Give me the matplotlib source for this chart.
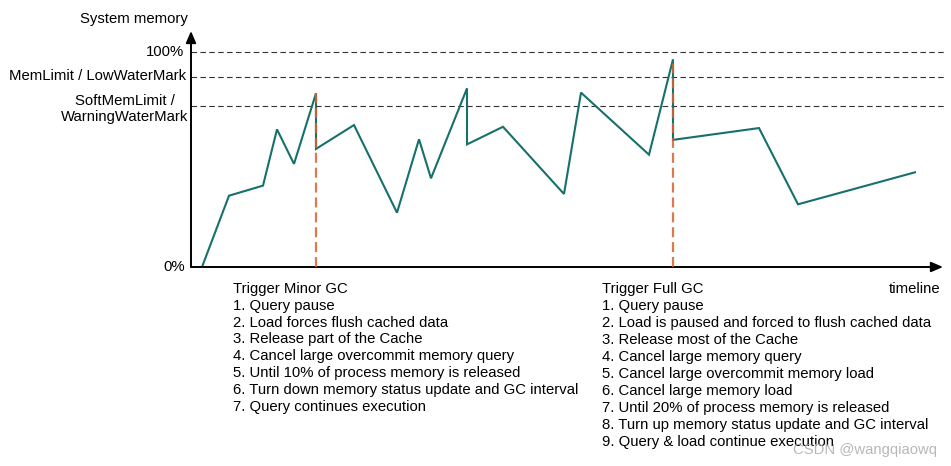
#!/usr/bin/env python3
import matplotlib.pyplot as plt
import numpy as np

plt.rcParams['font.family'] = ['Liberation Sans', 'DejaVu Sans']

# memory usage along the timeline (arbitrary time units, percent of system memory)
t = [11, 38, 72, 86, 103, 125, 125, 163, 206, 228, 240, 276, 276,
     312, 373, 390, 458, 482, 482, 568, 607, 724]
mem = [0, 33.2, 37.9, 64.1, 48.0, 80.9, 55.0, 66.1, 25.3, 59.5, 41.3,
       83.2, 57.1, 65.3, 34.0, 81.2, 52.3, 96.7, 59.2, 64.7, 29.2, 44.1]

# watermark levels
levels = [100, 88.4, 75.1]
level_labels = ['100%', 'MemLimit / LowWaterMark',
                'SoftMemLimit /\nWarningWaterMark']

# GC trigger moments and the peak reached there
gc_t = [125, 482]
gc_peak = [80.9, 96.7]

minor_gc = ['Trigger Minor GC',
            '1. Query pause',
            '2. Load forces flush cached data',
            '3. Release part of the Cache',
            '4. Cancel large overcommit memory query',
            '5. Until 10% of process memory is released',
            '6. Turn down memory status update and GC interval',
            '7. Query continues execution']
full_gc = ['Trigger Full GC',
           '1. Query pause',
           '2. Load is paused and forced to flush cached data',
           '3. Release most of the Cache',
           '4. Cancel large memory query',
           '5. Cancel large overcommit memory load',
           '6. Cancel large memory load',
           '7. Until 20% of process memory is released',
           '8. Turn up memory status update and GC interval',
           '9. Query & load continue execution']

TEAL = '#16706b'
ORANGE = '#d5632f'
FS = 10.7

fig = plt.figure(figsize=(9.51, 4.66), dpi=100)
ax = fig.add_axes([191 / 951, (466 - 267) / 466, 755 / 951, 236 / 466])
ax.set_xlim(0, 755)
ax.set_ylim(0, 109.9)
ax.axis('off')

# dashed watermark lines
for lv in levels:
    ax.plot([0, 755], [lv, lv], color='#333333', lw=0.8,
            dashes=(5, 3), clip_on=False, zorder=1)

ax.plot(t, mem, color=TEAL, lw=1.5, zorder=3, solid_joinstyle='miter')

# GC trigger markers, drawn over the drop so it turns brownish like the original
for gt, gp in zip(gc_t, gc_peak):
    ax.plot([gt, gt], [0, gp], color=ORANGE, lw=1.6, alpha=0.85,
            dashes=(4.5, 2.2), zorder=4)

# axes with arrows
arr = dict(arrowstyle='-|>,head_length=0.7,head_width=0.3', color='black',
           lw=1.4, shrinkA=0, shrinkB=0)
ax.annotate('', xy=(0, 109.9), xytext=(0, 0), arrowprops=arr,
            annotation_clip=False)
ax.annotate('', xy=(752, 0), xytext=(0, 0), arrowprops=arr,
            annotation_clip=False)

# labels
fig.text(188 / 951, 1 - 19 / 466, 'System memory', ha='right', va='center',
         fontsize=FS)
fig.text(185 / 951, 1 - 267 / 466, '0%', ha='right', va='center', fontsize=FS)
fig.text(184 / 951, 1 - 52 / 466, level_labels[0], ha='right', va='center',
         fontsize=FS)
fig.text(186 / 951, 1 - 76 / 466, level_labels[1], ha='right', va='center',
         fontsize=FS)
fig.text(124.5 / 951, 1 - 109 / 466, level_labels[2], ha='center',
         va='center', fontsize=FS, linespacing=1.15)

for i, line in enumerate(minor_gc):
    fig.text(233 / 951, 1 - (289 + 16.8 * i) / 466, line, ha='left',
             va='center', fontsize=FS)
for i, line in enumerate(full_gc):
    fig.text(601.5 / 951, 1 - (289 + 16.97 * i) / 466, line, ha='left',
             va='center', fontsize=FS)
fig.text(940 / 951, 1 - 289 / 466, 'timeline', ha='right', va='center',
         fontsize=FS)
fig.text(937 / 951, 1 - 450 / 466, 'CSDN @wangqiaowq', ha='right',
         va='center', fontsize=FS, color='#b0b0b0', alpha=0.9)

fig.savefig('out.png', dpi=100)
